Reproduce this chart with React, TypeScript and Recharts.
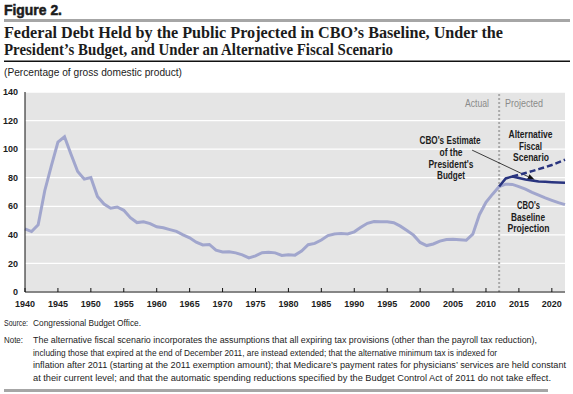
import React from "react";
import { LineChart, Line, XAxis, YAxis, CartesianGrid, ReferenceLine } from "recharts";

const years = [
  1940, 1941, 1942, 1943, 1944, 1945, 1946, 1947, 1948, 1949,
  1950, 1951, 1952, 1953, 1954, 1955, 1956, 1957, 1958, 1959,
  1960, 1961, 1962, 1963, 1964, 1965, 1966, 1967, 1968, 1969,
  1970, 1971, 1972, 1973, 1974, 1975, 1976, 1977, 1978, 1979,
  1980, 1981, 1982, 1983, 1984, 1985, 1986, 1987, 1988, 1989,
  1990, 1991, 1992, 1993, 1994, 1995, 1996, 1997, 1998, 1999,
  2000, 2001, 2002, 2003, 2004, 2005, 2006, 2007, 2008, 2009,
  2010, 2011, 2012, 2013, 2014, 2015, 2016, 2017, 2018, 2019,
  2020, 2021, 2022,
];

// 1940-2011, actual debt held by the public
const actualDebt = [
  44.2, 42.3, 47.0, 70.9, 88.3, 105.0, 108.7, 96.2, 84.3, 79.0,
  80.2, 66.9, 61.6, 58.6, 59.5, 57.2, 52.0, 48.6, 49.2, 47.9,
  45.6, 45.0, 43.7, 42.4, 40.0, 37.9, 34.9, 32.9, 33.3, 29.3,
  28.0, 28.1, 27.4, 26.0, 23.9, 25.3, 27.5, 27.8, 27.4, 25.6,
  26.1, 25.8, 28.7, 33.1, 34.0, 36.4, 39.5, 40.6, 41.0, 40.6,
  42.1, 45.3, 48.1, 49.3, 49.2, 49.1, 48.5, 46.1, 43.1, 39.8,
  34.7, 32.5, 33.6, 35.6, 36.8, 36.9, 36.5, 36.2, 40.5, 54.1,
  62.8, 68.5,
];

// 2012-2022 projections
const baselineProj = [73.8, 75.5, 75.3, 73.8, 72.0, 69.8, 67.8, 65.9, 64.2, 62.6, 61.2];
const presidentProj = [73.8, 79.5, 80.8, 79.8, 78.8, 78.0, 77.4, 77.1, 76.8, 76.6, 76.5];
// 2014-2022
const alternativeProj = [80.8, 82.0, 83.3, 84.6, 86.0, 87.4, 88.9, 90.7, 92.6];

const yTicks = [0, 20, 40, 60, 80, 100, 120, 140];
const xTicks = [1940, 1945, 1950, 1955, 1960, 1965, 1970, 1975, 1980, 1985, 1990, 1995, 2000, 2005, 2010, 2015, 2020];

const projStart = 2012;
const altStart = 2014;

const data = years.map((year, i) => ({
  year,
  baseline: year < projStart ? actualDebt[i] : baselineProj[year - projStart],
  president: year >= projStart ? presidentProj[year - projStart] : null,
  alternative: year >= altStart ? alternativeProj[year - altStart] : null,
}));

const LIGHT = "#a1a6cd";
const DARK = "#29347f";
const INK = "#1c1c1c";
const SANS = "Liberation Sans, Arial, sans-serif";
const SERIF = "Liberation Serif, Times New Roman, serif";

const Arrow = (props: any) => {
  const { x1, y1, x2, y2 } = props;
  const a = Math.atan2(y2 - y1, x2 - x1);
  const len = 7;
  const w = 2.6;
  const bx = x2 - len * Math.cos(a);
  const by = y2 - len * Math.sin(a);
  const p1 = `${bx + w * Math.sin(a)},${by - w * Math.cos(a)}`;
  const p2 = `${bx - w * Math.sin(a)},${by + w * Math.cos(a)}`;
  return (
    <g>
      <line x1={x1} y1={y1} x2={bx} y2={by} stroke="#111" strokeWidth={0.8} />
      <polygon points={`${x2},${y2} ${p1} ${p2}`} fill="#111" />
    </g>
  );
};

// condensed text: set at a size that fits the width, then stretched back up vertically
const Txt = ({ x, y, w, size, text, bold, anchor, fill, family, heavy }: any) => {
  const est = text.length * 0.58 * size;
  const f = Math.min(size, (size * w) / est);
  const s = size / f;
  const c = fill || INK;
  return (
    <g transform={`translate(${x},${y}) scale(1,${s})`}>
      <text
        x={0}
        y={0}
        fontSize={f}
        fontWeight={bold ? "bold" : "normal"}
        fontFamily={family || SANS}
        textAnchor={anchor || "start"}
        fill={c}
        stroke={heavy ? c : "none"}
        strokeWidth={heavy ? 0.4 : 0}
        textLength={w}
        lengthAdjust="spacingAndGlyphs"
      >
        {text}
      </text>
    </g>
  );
};

export default function App() {
  return (
    <div style={{ position: "absolute", left: 0, top: 0, width: 573, height: 394, background: "#fff", fontFamily: SANS }}>
      <LineChart width={573} height={394} data={data} margin={{ top: 92, right: 8, left: 0, bottom: 82 }}>
        <CartesianGrid vertical={false} stroke="#ffffff" strokeWidth={1.3} fill="#e5e5e5" />
        <XAxis
          dataKey="year"
          type="number"
          domain={[1940, 2022]}
          ticks={xTicks}
          interval={0}
          height={20}
          stroke="#111"
          tickSize={-4}
          tickMargin={13}
          tick={{ fontSize: 9, fontWeight: "bold", fill: INK, fontFamily: SANS }}
        />
        <YAxis
          domain={[0, 140]}
          ticks={yTicks}
          interval={0}
          width={25}
          stroke="#111"
          tickLine={false}
          tickSize={6}
          tickMargin={1}
          tick={{ fontSize: 9, fontWeight: "bold", fill: INK, fontFamily: SANS }}
        />
        <ReferenceLine x={projStart} stroke="#a9a9a9" strokeWidth={2} strokeDasharray="2 2" />
        <ReferenceLine
          segment={[{ x: 2007.9, y: 99.3 }, { x: 2017.4, y: 78.6 }]}
          shape={Arrow}
        />
        <Line dataKey="baseline" stroke={LIGHT} strokeWidth={3} dot={false} isAnimationActive={false} />
        <Line dataKey="alternative" stroke={DARK} strokeWidth={2.5} strokeDasharray="6 3" dot={false} isAnimationActive={false} />
        <Line dataKey="president" stroke={DARK} strokeWidth={2.5} dot={false} isAnimationActive={false} />
      </LineChart>

      <svg width={573} height={394} style={{ position: "absolute", left: 0, top: 0, pointerEvents: "none" }}>
        <Txt x={4} y={15} w={58} size={14} bold heavy text="Figure 2." />
        <rect x={4} y={19} width={566} height={3} fill="#a6a6a6" />
        <Txt x={4} y={37.5} w={499} size={16.5} bold family={SERIF}
          text="Federal Debt Held by the Public Projected in CBO’s Baseline, Under the" />
        <Txt x={4} y={55} w={389} size={16.5} bold family={SERIF}
          text="President’s Budget, and Under an Alternative Fiscal Scenario" />
        <rect x={4} y={60.5} width={566} height={1.5} fill="#111" />
        <Txt x={4} y={76} w={178} size={10} text="(Percentage of gross domestic product)" />

        <Txt x={465} y={107} w={24} size={10} fill="#8a8a8a" text="Actual" />
        <Txt x={505} y={107} w={38} size={10} fill="#8a8a8a" text="Projected" />

        <Txt x={450} y={143.5} w={61} size={10.5} bold anchor="middle" text="CBO's Estimate" />
        <Txt x={451} y={155.5} w={23} size={10.5} bold anchor="middle" text="of the" />
        <Txt x={451} y={167.5} w={45} size={10.5} bold anchor="middle" text="President's" />
        <Txt x={451} y={179} w={28} size={10.5} bold anchor="middle" text="Budget" />

        <Txt x={530.5} y={138} w={44} size={10.5} bold anchor="middle" text="Alternative" />
        <Txt x={530.5} y={149.5} w={23} size={10.5} bold anchor="middle" text="Fiscal" />
        <Txt x={531} y={161} w={36} size={10.5} bold anchor="middle" text="Scenario" />

        <Txt x={528.5} y={209} w={23} size={10.5} bold anchor="middle" text="CBO's" />
        <Txt x={528} y={220.5} w={34} size={10.5} bold anchor="middle" text="Baseline" />
        <Txt x={528.5} y={232} w={42} size={10.5} bold anchor="middle" text="Projection" />

        <Txt x={4} y={326} w={24} size={9.5} text="Source:" />
        <Txt x={33} y={326} w={108} size={9.5} text="Congressional Budget Office." />
        <Txt x={4} y={343} w={19} size={9.5} text="Note:" />
        <Txt x={33} y={343} w={504} size={9.5}
          text="The alternative fiscal scenario incorporates the assumptions that all expiring tax provisions (other than the payroll tax reduction)," />
        <Txt x={33} y={355.5} w={464} size={9.5}
          text="including those that expired at the end of December 2011, are instead extended; that the alternative minimum tax is indexed for" />
        <Txt x={33} y={368} w={533} size={9.5}
          text="inflation after 2011 (starting at the 2011 exemption amount); that Medicare’s payment rates for physicians’ services are held constant" />
        <Txt x={33} y={380.5} w={518} size={9.5}
          text="at their current level; and that the automatic spending reductions specified by the Budget Control Act of 2011 do not take effect." />
        <rect x={4} y={389} width={544} height={3} fill="#a6a6a6" />
      </svg>
    </div>
  );
}
